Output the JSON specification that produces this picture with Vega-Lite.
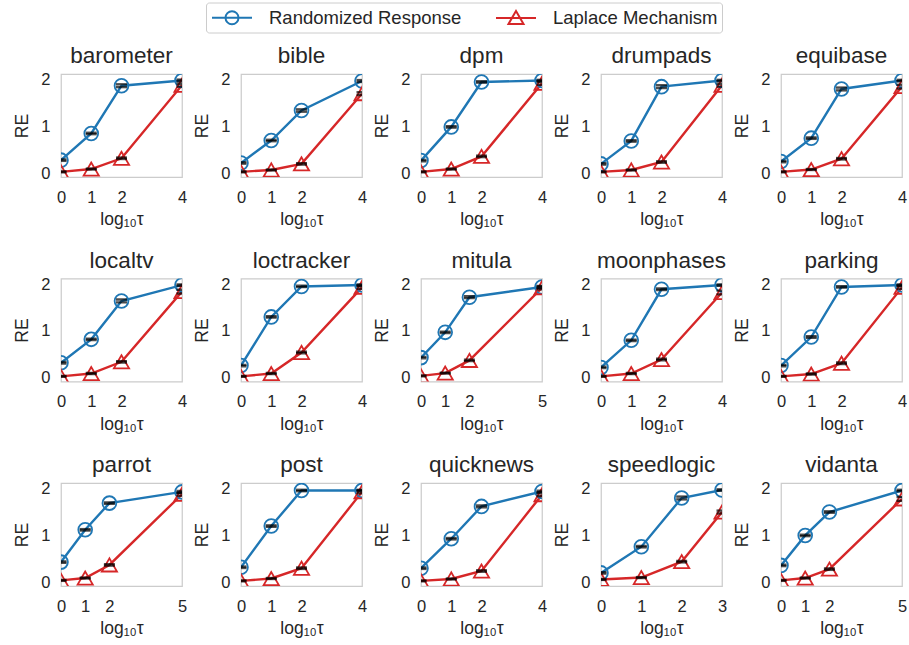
{
"$schema": "https://vega.github.io/schema/vega-lite/v6.json",
"autosize": {"type": "pad"},
"padding": {"left": 13, "top": 2, "right": 0, "bottom": 0},
"background": "white",
"config": {
  "font": "Liberation Sans",
  "view": {"stroke": "#cccccc", "strokeWidth": 1.25},
  "axis": {"domain": false, "ticks": false, "tickSize": 0, "grid": false, "labelFlush": false, "labelFontSize": 16.5, "titleFontSize": 17.5, "labelColor": "#262626", "titleColor": "#262626", "titleFontWeight": "normal", "labelFont": "Liberation Sans", "titleFont": "Liberation Sans"},
  "axisX": {"labelPadding": 12, "titlePadding": 5},
  "axisY": {"labelPadding": 11, "titlePadding": 9},
  "title": {"fontSize": 22.5, "fontWeight": "normal", "color": "#262626", "offset": 4, "font": "Liberation Sans"},
  "legend": {"orient": "none", "legendX": 145, "legendY": -71.5, "direction": "horizontal", "symbolSize": 400, "symbolStrokeWidth": 2, "symbolOffset": 11, "labelOffset": 26, "columnPadding": 30, "padding": 4, "strokeColor": "#cccccc", "cornerRadius": 3, "labelFontSize": 18.5, "labelLimit": 400, "labelColor": "#262626", "labelFont": "Liberation Sans"}
},
"data": {"values": [
{"d":"barometer","m":"RR","t":0,"v":0.28,"lo":0.265,"hi":0.295},{"d":"barometer","m":"RR","t":1,"v":0.85,"lo":0.835,"hi":0.865},{"d":"barometer","m":"RR","t":2,"v":1.87,"lo":1.84,"hi":1.9},{"d":"barometer","m":"RR","t":4,"v":1.98,"lo":1.96,"hi":2.0},
{"d":"barometer","m":"LM","t":0,"v":0.03,"lo":0.02,"hi":0.04},{"d":"barometer","m":"LM","t":1,"v":0.09,"lo":0.08,"hi":0.1},{"d":"barometer","m":"LM","t":2,"v":0.32,"lo":0.305,"hi":0.335},{"d":"barometer","m":"LM","t":4,"v":1.88,"lo":1.85,"hi":1.91},
{"d":"bible","m":"RR","t":0,"v":0.22,"lo":0.205,"hi":0.235},{"d":"bible","m":"RR","t":1,"v":0.7,"lo":0.685,"hi":0.715},{"d":"bible","m":"RR","t":2,"v":1.34,"lo":1.315,"hi":1.365},{"d":"bible","m":"RR","t":4,"v":1.97,"lo":1.95,"hi":1.99},
{"d":"bible","m":"LM","t":0,"v":0.03,"lo":0.02,"hi":0.04},{"d":"bible","m":"LM","t":1,"v":0.07,"lo":0.06,"hi":0.08},{"d":"bible","m":"LM","t":2,"v":0.2,"lo":0.185,"hi":0.215},{"d":"bible","m":"LM","t":4,"v":1.7,"lo":1.67,"hi":1.73},
{"d":"dpm","m":"RR","t":0,"v":0.27,"lo":0.255,"hi":0.285},{"d":"dpm","m":"RR","t":1,"v":0.99,"lo":0.975,"hi":1.005},{"d":"dpm","m":"RR","t":2,"v":1.95,"lo":1.935,"hi":1.965},{"d":"dpm","m":"RR","t":4,"v":1.98,"lo":1.965,"hi":1.995},
{"d":"dpm","m":"LM","t":0,"v":0.03,"lo":0.02,"hi":0.04},{"d":"dpm","m":"LM","t":1,"v":0.09,"lo":0.08,"hi":0.1},{"d":"dpm","m":"LM","t":2,"v":0.36,"lo":0.345,"hi":0.375},{"d":"dpm","m":"LM","t":4,"v":1.92,"lo":1.89,"hi":1.95},
{"d":"drumpads","m":"RR","t":0,"v":0.2,"lo":0.185,"hi":0.215},{"d":"drumpads","m":"RR","t":1,"v":0.69,"lo":0.675,"hi":0.705},{"d":"drumpads","m":"RR","t":2,"v":1.85,"lo":1.82,"hi":1.88},{"d":"drumpads","m":"RR","t":4,"v":1.98,"lo":1.965,"hi":1.995},
{"d":"drumpads","m":"LM","t":0,"v":0.03,"lo":0.02,"hi":0.04},{"d":"drumpads","m":"LM","t":1,"v":0.07,"lo":0.06,"hi":0.08},{"d":"drumpads","m":"LM","t":2,"v":0.24,"lo":0.225,"hi":0.255},{"d":"drumpads","m":"LM","t":4,"v":1.88,"lo":1.85,"hi":1.91},
{"d":"equibase","m":"RR","t":0,"v":0.25,"lo":0.235,"hi":0.265},{"d":"equibase","m":"RR","t":1,"v":0.75,"lo":0.735,"hi":0.765},{"d":"equibase","m":"RR","t":2,"v":1.8,"lo":1.77,"hi":1.83},{"d":"equibase","m":"RR","t":4,"v":1.98,"lo":1.965,"hi":1.995},
{"d":"equibase","m":"LM","t":0,"v":0.03,"lo":0.02,"hi":0.04},{"d":"equibase","m":"LM","t":1,"v":0.08,"lo":0.07,"hi":0.09},{"d":"equibase","m":"LM","t":2,"v":0.31,"lo":0.295,"hi":0.325},{"d":"equibase","m":"LM","t":4,"v":1.85,"lo":1.81,"hi":1.89},
{"d":"localtv","m":"RR","t":0,"v":0.32,"lo":0.305,"hi":0.335},{"d":"localtv","m":"RR","t":1,"v":0.82,"lo":0.805,"hi":0.835},{"d":"localtv","m":"RR","t":2,"v":1.64,"lo":1.61,"hi":1.67},{"d":"localtv","m":"RR","t":4,"v":1.98,"lo":1.965,"hi":1.995},
{"d":"localtv","m":"LM","t":0,"v":0.03,"lo":0.02,"hi":0.04},{"d":"localtv","m":"LM","t":1,"v":0.09,"lo":0.08,"hi":0.1},{"d":"localtv","m":"LM","t":2,"v":0.34,"lo":0.325,"hi":0.355},{"d":"localtv","m":"LM","t":4,"v":1.84,"lo":1.8,"hi":1.88},
{"d":"loctracker","m":"RR","t":0,"v":0.26,"lo":0.245,"hi":0.275},{"d":"loctracker","m":"RR","t":1,"v":1.3,"lo":1.285,"hi":1.315},{"d":"loctracker","m":"RR","t":2,"v":1.95,"lo":1.935,"hi":1.965},{"d":"loctracker","m":"RR","t":4,"v":1.98,"lo":1.965,"hi":1.995},
{"d":"loctracker","m":"LM","t":0,"v":0.03,"lo":0.02,"hi":0.04},{"d":"loctracker","m":"LM","t":1,"v":0.09,"lo":0.08,"hi":0.1},{"d":"loctracker","m":"LM","t":2,"v":0.54,"lo":0.525,"hi":0.555},{"d":"loctracker","m":"LM","t":4,"v":1.93,"lo":1.9,"hi":1.96},
{"d":"mitula","m":"RR","t":0,"v":0.43,"lo":0.415,"hi":0.445},{"d":"mitula","m":"RR","t":1,"v":0.97,"lo":0.955,"hi":0.985},{"d":"mitula","m":"RR","t":2,"v":1.72,"lo":1.7,"hi":1.74},{"d":"mitula","m":"RR","t":5,"v":1.94,"lo":1.92,"hi":1.96},
{"d":"mitula","m":"LM","t":0,"v":0.04,"lo":0.03,"hi":0.05},{"d":"mitula","m":"LM","t":1,"v":0.1,"lo":0.09,"hi":0.11},{"d":"mitula","m":"LM","t":2,"v":0.37,"lo":0.355,"hi":0.385},{"d":"mitula","m":"LM","t":5,"v":1.92,"lo":1.89,"hi":1.95},
{"d":"moonphases","m":"RR","t":0,"v":0.22,"lo":0.205,"hi":0.235},{"d":"moonphases","m":"RR","t":1,"v":0.8,"lo":0.785,"hi":0.815},{"d":"moonphases","m":"RR","t":2,"v":1.89,"lo":1.875,"hi":1.905},{"d":"moonphases","m":"RR","t":4,"v":1.98,"lo":1.965,"hi":1.995},
{"d":"moonphases","m":"LM","t":0,"v":0.03,"lo":0.02,"hi":0.04},{"d":"moonphases","m":"LM","t":1,"v":0.09,"lo":0.08,"hi":0.1},{"d":"moonphases","m":"LM","t":2,"v":0.39,"lo":0.375,"hi":0.405},{"d":"moonphases","m":"LM","t":4,"v":1.82,"lo":1.78,"hi":1.86},
{"d":"parking","m":"RR","t":0,"v":0.26,"lo":0.245,"hi":0.275},{"d":"parking","m":"RR","t":1,"v":0.87,"lo":0.855,"hi":0.885},{"d":"parking","m":"RR","t":2,"v":1.94,"lo":1.925,"hi":1.955},{"d":"parking","m":"RR","t":4,"v":1.98,"lo":1.965,"hi":1.995},
{"d":"parking","m":"LM","t":0,"v":0.03,"lo":0.02,"hi":0.04},{"d":"parking","m":"LM","t":1,"v":0.08,"lo":0.07,"hi":0.09},{"d":"parking","m":"LM","t":2,"v":0.31,"lo":0.295,"hi":0.325},{"d":"parking","m":"LM","t":4,"v":1.93,"lo":1.9,"hi":1.96},
{"d":"parrot","m":"RR","t":0,"v":0.43,"lo":0.415,"hi":0.445},{"d":"parrot","m":"RR","t":1,"v":1.12,"lo":1.105,"hi":1.135},{"d":"parrot","m":"RR","t":2,"v":1.69,"lo":1.675,"hi":1.705},{"d":"parrot","m":"RR","t":5,"v":1.93,"lo":1.91,"hi":1.95},
{"d":"parrot","m":"LM","t":0,"v":0.04,"lo":0.03,"hi":0.05},{"d":"parrot","m":"LM","t":1,"v":0.09,"lo":0.08,"hi":0.1},{"d":"parrot","m":"LM","t":2,"v":0.37,"lo":0.355,"hi":0.385},{"d":"parrot","m":"LM","t":5,"v":1.88,"lo":1.85,"hi":1.91},
{"d":"post","m":"RR","t":0,"v":0.32,"lo":0.305,"hi":0.335},{"d":"post","m":"RR","t":1,"v":1.2,"lo":1.185,"hi":1.215},{"d":"post","m":"RR","t":2,"v":1.96,"lo":1.945,"hi":1.975},{"d":"post","m":"RR","t":4,"v":1.96,"lo":1.945,"hi":1.975},
{"d":"post","m":"LM","t":0,"v":0.03,"lo":0.02,"hi":0.04},{"d":"post","m":"LM","t":1,"v":0.08,"lo":0.07,"hi":0.09},{"d":"post","m":"LM","t":2,"v":0.3,"lo":0.285,"hi":0.315},{"d":"post","m":"LM","t":4,"v":1.93,"lo":1.9,"hi":1.96},
{"d":"quicknews","m":"RR","t":0,"v":0.3,"lo":0.285,"hi":0.315},{"d":"quicknews","m":"RR","t":1,"v":0.93,"lo":0.915,"hi":0.945},{"d":"quicknews","m":"RR","t":2,"v":1.62,"lo":1.6,"hi":1.64},{"d":"quicknews","m":"RR","t":4,"v":1.94,"lo":1.925,"hi":1.955},
{"d":"quicknews","m":"LM","t":0,"v":0.03,"lo":0.02,"hi":0.04},{"d":"quicknews","m":"LM","t":1,"v":0.07,"lo":0.06,"hi":0.08},{"d":"quicknews","m":"LM","t":2,"v":0.24,"lo":0.225,"hi":0.255},{"d":"quicknews","m":"LM","t":4,"v":1.87,"lo":1.84,"hi":1.9},
{"d":"speedlogic","m":"RR","t":0,"v":0.2,"lo":0.185,"hi":0.215},{"d":"speedlogic","m":"RR","t":1,"v":0.76,"lo":0.745,"hi":0.775},{"d":"speedlogic","m":"RR","t":2,"v":1.8,"lo":1.77,"hi":1.83},{"d":"speedlogic","m":"RR","t":3,"v":1.97,"lo":1.955,"hi":1.985},
{"d":"speedlogic","m":"LM","t":0,"v":0.06,"lo":0.05,"hi":0.07},{"d":"speedlogic","m":"LM","t":1,"v":0.1,"lo":0.09,"hi":0.11},{"d":"speedlogic","m":"LM","t":2,"v":0.44,"lo":0.425,"hi":0.455},{"d":"speedlogic","m":"LM","t":3,"v":1.5,"lo":1.47,"hi":1.53},
{"d":"vidanta","m":"RR","t":0,"v":0.36,"lo":0.345,"hi":0.375},{"d":"vidanta","m":"RR","t":1,"v":1.0,"lo":0.985,"hi":1.015},{"d":"vidanta","m":"RR","t":2,"v":1.5,"lo":1.485,"hi":1.515},{"d":"vidanta","m":"RR","t":5,"v":1.96,"lo":1.945,"hi":1.975},
{"d":"vidanta","m":"LM","t":0,"v":0.04,"lo":0.03,"hi":0.05},{"d":"vidanta","m":"LM","t":1,"v":0.09,"lo":0.08,"hi":0.1},{"d":"vidanta","m":"LM","t":2,"v":0.28,"lo":0.265,"hi":0.295},{"d":"vidanta","m":"LM","t":5,"v":1.78,"lo":1.74,"hi":1.82}
]},
"resolve": {"scale": {"x": "independent", "y": "independent"}},
"columns": 5,
"spacing": {"row": 101.5, "column": 59},
"bounds": "flush",
"concat": [
{"title":"barometer","width":121,"height":103,"transform":[{"filter":"datum.d==='barometer'"}],"encoding":{"x":{"field":"t","type":"quantitative","title":"log₁₀τ","scale":{"domain":[0,4],"nice":false,"zero":false},"axis":{"values":[0,1,2,4]}},"color":{"field":"m","type":"nominal","scale":{"domain":["RR","LM"],"range":["#1f77b4","#d62728"]},"legend":{"title":null,"labelExpr":"datum.value==='RR'?'Randomized Response':'Laplace Mechanism'","encode":{"symbols":{"update":{"shape":{"signal":"datum.value==='RR'?'M-2,0H2M0.65,0A0.65,0.65 0 1,1 -0.65,0A0.65,0.65 0 1,1 0.65,0':'M-2,0H2M0,-0.7L0.75,0.58L-0.75,0.58Z'"},"fill":{"value":"transparent"},"strokeWidth":{"value":2}}}}}}},"layer":[
{"mark":{"type":"line","strokeWidth":2.4,"clip":true},"encoding":{"y":{"field":"v","type":"quantitative","title":"RE","scale":{"domain":[-0.08,2.12],"nice":false,"zero":false},"axis":{"values":[0,1,2]}}}},
{"transform":[{"filter":"datum.m==='RR'"}],"mark":{"type":"point","shape":"circle","filled":false,"size":190,"strokeWidth":1.8,"opacity":1,"clip":true},"encoding":{"y":{"field":"v","type":"quantitative","title":"RE"}}},
{"transform":[{"filter":"datum.m==='LM'"}],"mark":{"type":"point","shape":"triangle-up","filled":false,"size":230,"strokeWidth":1.8,"opacity":1,"clip":true},"encoding":{"y":{"field":"v","type":"quantitative","title":"RE"}}},
{"mark":{"type":"tick","orient":"horizontal","thickness":2.4,"size":11,"clip":true},"encoding":{"y":{"field":"lo","type":"quantitative","title":"RE"},"color":{"value":"black"}}},
{"mark":{"type":"tick","orient":"horizontal","thickness":2.4,"size":11,"clip":true},"encoding":{"y":{"field":"hi","type":"quantitative","title":"RE"},"color":{"value":"black"}}}]},
{"title":"bible","width":121,"height":103,"transform":[{"filter":"datum.d==='bible'"}],"encoding":{"x":{"field":"t","type":"quantitative","title":"log₁₀τ","scale":{"domain":[0,4],"nice":false,"zero":false},"axis":{"values":[0,1,2,4]}},"color":{"field":"m","type":"nominal","scale":{"domain":["RR","LM"],"range":["#1f77b4","#d62728"]}}},"layer":[
{"mark":{"type":"line","strokeWidth":2.4,"clip":true},"encoding":{"y":{"field":"v","type":"quantitative","title":"RE","scale":{"domain":[-0.08,2.12],"nice":false,"zero":false},"axis":{"values":[0,1,2]}}}},
{"transform":[{"filter":"datum.m==='RR'"}],"mark":{"type":"point","shape":"circle","filled":false,"size":190,"strokeWidth":1.8,"opacity":1,"clip":true},"encoding":{"y":{"field":"v","type":"quantitative","title":"RE"}}},
{"transform":[{"filter":"datum.m==='LM'"}],"mark":{"type":"point","shape":"triangle-up","filled":false,"size":230,"strokeWidth":1.8,"opacity":1,"clip":true},"encoding":{"y":{"field":"v","type":"quantitative","title":"RE"}}},
{"mark":{"type":"tick","orient":"horizontal","thickness":2.4,"size":11,"clip":true},"encoding":{"y":{"field":"lo","type":"quantitative","title":"RE"},"color":{"value":"black"}}},
{"mark":{"type":"tick","orient":"horizontal","thickness":2.4,"size":11,"clip":true},"encoding":{"y":{"field":"hi","type":"quantitative","title":"RE"},"color":{"value":"black"}}}]},
{"title":"dpm","width":121,"height":103,"transform":[{"filter":"datum.d==='dpm'"}],"encoding":{"x":{"field":"t","type":"quantitative","title":"log₁₀τ","scale":{"domain":[0,4],"nice":false,"zero":false},"axis":{"values":[0,1,2,4]}},"color":{"field":"m","type":"nominal","scale":{"domain":["RR","LM"],"range":["#1f77b4","#d62728"]}}},"layer":[
{"mark":{"type":"line","strokeWidth":2.4,"clip":true},"encoding":{"y":{"field":"v","type":"quantitative","title":"RE","scale":{"domain":[-0.08,2.12],"nice":false,"zero":false},"axis":{"values":[0,1,2]}}}},
{"transform":[{"filter":"datum.m==='RR'"}],"mark":{"type":"point","shape":"circle","filled":false,"size":190,"strokeWidth":1.8,"opacity":1,"clip":true},"encoding":{"y":{"field":"v","type":"quantitative","title":"RE"}}},
{"transform":[{"filter":"datum.m==='LM'"}],"mark":{"type":"point","shape":"triangle-up","filled":false,"size":230,"strokeWidth":1.8,"opacity":1,"clip":true},"encoding":{"y":{"field":"v","type":"quantitative","title":"RE"}}},
{"mark":{"type":"tick","orient":"horizontal","thickness":2.4,"size":11,"clip":true},"encoding":{"y":{"field":"lo","type":"quantitative","title":"RE"},"color":{"value":"black"}}},
{"mark":{"type":"tick","orient":"horizontal","thickness":2.4,"size":11,"clip":true},"encoding":{"y":{"field":"hi","type":"quantitative","title":"RE"},"color":{"value":"black"}}}]},
{"title":"drumpads","width":121,"height":103,"transform":[{"filter":"datum.d==='drumpads'"}],"encoding":{"x":{"field":"t","type":"quantitative","title":"log₁₀τ","scale":{"domain":[0,4],"nice":false,"zero":false},"axis":{"values":[0,1,2,4]}},"color":{"field":"m","type":"nominal","scale":{"domain":["RR","LM"],"range":["#1f77b4","#d62728"]}}},"layer":[
{"mark":{"type":"line","strokeWidth":2.4,"clip":true},"encoding":{"y":{"field":"v","type":"quantitative","title":"RE","scale":{"domain":[-0.08,2.12],"nice":false,"zero":false},"axis":{"values":[0,1,2]}}}},
{"transform":[{"filter":"datum.m==='RR'"}],"mark":{"type":"point","shape":"circle","filled":false,"size":190,"strokeWidth":1.8,"opacity":1,"clip":true},"encoding":{"y":{"field":"v","type":"quantitative","title":"RE"}}},
{"transform":[{"filter":"datum.m==='LM'"}],"mark":{"type":"point","shape":"triangle-up","filled":false,"size":230,"strokeWidth":1.8,"opacity":1,"clip":true},"encoding":{"y":{"field":"v","type":"quantitative","title":"RE"}}},
{"mark":{"type":"tick","orient":"horizontal","thickness":2.4,"size":11,"clip":true},"encoding":{"y":{"field":"lo","type":"quantitative","title":"RE"},"color":{"value":"black"}}},
{"mark":{"type":"tick","orient":"horizontal","thickness":2.4,"size":11,"clip":true},"encoding":{"y":{"field":"hi","type":"quantitative","title":"RE"},"color":{"value":"black"}}}]},
{"title":"equibase","width":121,"height":103,"transform":[{"filter":"datum.d==='equibase'"}],"encoding":{"x":{"field":"t","type":"quantitative","title":"log₁₀τ","scale":{"domain":[0,4],"nice":false,"zero":false},"axis":{"values":[0,1,2,4]}},"color":{"field":"m","type":"nominal","scale":{"domain":["RR","LM"],"range":["#1f77b4","#d62728"]}}},"layer":[
{"mark":{"type":"line","strokeWidth":2.4,"clip":true},"encoding":{"y":{"field":"v","type":"quantitative","title":"RE","scale":{"domain":[-0.08,2.12],"nice":false,"zero":false},"axis":{"values":[0,1,2]}}}},
{"transform":[{"filter":"datum.m==='RR'"}],"mark":{"type":"point","shape":"circle","filled":false,"size":190,"strokeWidth":1.8,"opacity":1,"clip":true},"encoding":{"y":{"field":"v","type":"quantitative","title":"RE"}}},
{"transform":[{"filter":"datum.m==='LM'"}],"mark":{"type":"point","shape":"triangle-up","filled":false,"size":230,"strokeWidth":1.8,"opacity":1,"clip":true},"encoding":{"y":{"field":"v","type":"quantitative","title":"RE"}}},
{"mark":{"type":"tick","orient":"horizontal","thickness":2.4,"size":11,"clip":true},"encoding":{"y":{"field":"lo","type":"quantitative","title":"RE"},"color":{"value":"black"}}},
{"mark":{"type":"tick","orient":"horizontal","thickness":2.4,"size":11,"clip":true},"encoding":{"y":{"field":"hi","type":"quantitative","title":"RE"},"color":{"value":"black"}}}]},
{"title":"localtv","width":121,"height":103,"transform":[{"filter":"datum.d==='localtv'"}],"encoding":{"x":{"field":"t","type":"quantitative","title":"log₁₀τ","scale":{"domain":[0,4],"nice":false,"zero":false},"axis":{"values":[0,1,2,4]}},"color":{"field":"m","type":"nominal","scale":{"domain":["RR","LM"],"range":["#1f77b4","#d62728"]}}},"layer":[
{"mark":{"type":"line","strokeWidth":2.4,"clip":true},"encoding":{"y":{"field":"v","type":"quantitative","title":"RE","scale":{"domain":[-0.08,2.12],"nice":false,"zero":false},"axis":{"values":[0,1,2]}}}},
{"transform":[{"filter":"datum.m==='RR'"}],"mark":{"type":"point","shape":"circle","filled":false,"size":190,"strokeWidth":1.8,"opacity":1,"clip":true},"encoding":{"y":{"field":"v","type":"quantitative","title":"RE"}}},
{"transform":[{"filter":"datum.m==='LM'"}],"mark":{"type":"point","shape":"triangle-up","filled":false,"size":230,"strokeWidth":1.8,"opacity":1,"clip":true},"encoding":{"y":{"field":"v","type":"quantitative","title":"RE"}}},
{"mark":{"type":"tick","orient":"horizontal","thickness":2.4,"size":11,"clip":true},"encoding":{"y":{"field":"lo","type":"quantitative","title":"RE"},"color":{"value":"black"}}},
{"mark":{"type":"tick","orient":"horizontal","thickness":2.4,"size":11,"clip":true},"encoding":{"y":{"field":"hi","type":"quantitative","title":"RE"},"color":{"value":"black"}}}]},
{"title":"loctracker","width":121,"height":103,"transform":[{"filter":"datum.d==='loctracker'"}],"encoding":{"x":{"field":"t","type":"quantitative","title":"log₁₀τ","scale":{"domain":[0,4],"nice":false,"zero":false},"axis":{"values":[0,1,2,4]}},"color":{"field":"m","type":"nominal","scale":{"domain":["RR","LM"],"range":["#1f77b4","#d62728"]}}},"layer":[
{"mark":{"type":"line","strokeWidth":2.4,"clip":true},"encoding":{"y":{"field":"v","type":"quantitative","title":"RE","scale":{"domain":[-0.08,2.12],"nice":false,"zero":false},"axis":{"values":[0,1,2]}}}},
{"transform":[{"filter":"datum.m==='RR'"}],"mark":{"type":"point","shape":"circle","filled":false,"size":190,"strokeWidth":1.8,"opacity":1,"clip":true},"encoding":{"y":{"field":"v","type":"quantitative","title":"RE"}}},
{"transform":[{"filter":"datum.m==='LM'"}],"mark":{"type":"point","shape":"triangle-up","filled":false,"size":230,"strokeWidth":1.8,"opacity":1,"clip":true},"encoding":{"y":{"field":"v","type":"quantitative","title":"RE"}}},
{"mark":{"type":"tick","orient":"horizontal","thickness":2.4,"size":11,"clip":true},"encoding":{"y":{"field":"lo","type":"quantitative","title":"RE"},"color":{"value":"black"}}},
{"mark":{"type":"tick","orient":"horizontal","thickness":2.4,"size":11,"clip":true},"encoding":{"y":{"field":"hi","type":"quantitative","title":"RE"},"color":{"value":"black"}}}]},
{"title":"mitula","width":121,"height":103,"transform":[{"filter":"datum.d==='mitula'"}],"encoding":{"x":{"field":"t","type":"quantitative","title":"log₁₀τ","scale":{"domain":[0,5],"nice":false,"zero":false},"axis":{"values":[0,1,2,5]}},"color":{"field":"m","type":"nominal","scale":{"domain":["RR","LM"],"range":["#1f77b4","#d62728"]}}},"layer":[
{"mark":{"type":"line","strokeWidth":2.4,"clip":true},"encoding":{"y":{"field":"v","type":"quantitative","title":"RE","scale":{"domain":[-0.08,2.12],"nice":false,"zero":false},"axis":{"values":[0,1,2]}}}},
{"transform":[{"filter":"datum.m==='RR'"}],"mark":{"type":"point","shape":"circle","filled":false,"size":190,"strokeWidth":1.8,"opacity":1,"clip":true},"encoding":{"y":{"field":"v","type":"quantitative","title":"RE"}}},
{"transform":[{"filter":"datum.m==='LM'"}],"mark":{"type":"point","shape":"triangle-up","filled":false,"size":230,"strokeWidth":1.8,"opacity":1,"clip":true},"encoding":{"y":{"field":"v","type":"quantitative","title":"RE"}}},
{"mark":{"type":"tick","orient":"horizontal","thickness":2.4,"size":11,"clip":true},"encoding":{"y":{"field":"lo","type":"quantitative","title":"RE"},"color":{"value":"black"}}},
{"mark":{"type":"tick","orient":"horizontal","thickness":2.4,"size":11,"clip":true},"encoding":{"y":{"field":"hi","type":"quantitative","title":"RE"},"color":{"value":"black"}}}]},
{"title":"moonphases","width":121,"height":103,"transform":[{"filter":"datum.d==='moonphases'"}],"encoding":{"x":{"field":"t","type":"quantitative","title":"log₁₀τ","scale":{"domain":[0,4],"nice":false,"zero":false},"axis":{"values":[0,1,2,4]}},"color":{"field":"m","type":"nominal","scale":{"domain":["RR","LM"],"range":["#1f77b4","#d62728"]}}},"layer":[
{"mark":{"type":"line","strokeWidth":2.4,"clip":true},"encoding":{"y":{"field":"v","type":"quantitative","title":"RE","scale":{"domain":[-0.08,2.12],"nice":false,"zero":false},"axis":{"values":[0,1,2]}}}},
{"transform":[{"filter":"datum.m==='RR'"}],"mark":{"type":"point","shape":"circle","filled":false,"size":190,"strokeWidth":1.8,"opacity":1,"clip":true},"encoding":{"y":{"field":"v","type":"quantitative","title":"RE"}}},
{"transform":[{"filter":"datum.m==='LM'"}],"mark":{"type":"point","shape":"triangle-up","filled":false,"size":230,"strokeWidth":1.8,"opacity":1,"clip":true},"encoding":{"y":{"field":"v","type":"quantitative","title":"RE"}}},
{"mark":{"type":"tick","orient":"horizontal","thickness":2.4,"size":11,"clip":true},"encoding":{"y":{"field":"lo","type":"quantitative","title":"RE"},"color":{"value":"black"}}},
{"mark":{"type":"tick","orient":"horizontal","thickness":2.4,"size":11,"clip":true},"encoding":{"y":{"field":"hi","type":"quantitative","title":"RE"},"color":{"value":"black"}}}]},
{"title":"parking","width":121,"height":103,"transform":[{"filter":"datum.d==='parking'"}],"encoding":{"x":{"field":"t","type":"quantitative","title":"log₁₀τ","scale":{"domain":[0,4],"nice":false,"zero":false},"axis":{"values":[0,1,2,4]}},"color":{"field":"m","type":"nominal","scale":{"domain":["RR","LM"],"range":["#1f77b4","#d62728"]}}},"layer":[
{"mark":{"type":"line","strokeWidth":2.4,"clip":true},"encoding":{"y":{"field":"v","type":"quantitative","title":"RE","scale":{"domain":[-0.08,2.12],"nice":false,"zero":false},"axis":{"values":[0,1,2]}}}},
{"transform":[{"filter":"datum.m==='RR'"}],"mark":{"type":"point","shape":"circle","filled":false,"size":190,"strokeWidth":1.8,"opacity":1,"clip":true},"encoding":{"y":{"field":"v","type":"quantitative","title":"RE"}}},
{"transform":[{"filter":"datum.m==='LM'"}],"mark":{"type":"point","shape":"triangle-up","filled":false,"size":230,"strokeWidth":1.8,"opacity":1,"clip":true},"encoding":{"y":{"field":"v","type":"quantitative","title":"RE"}}},
{"mark":{"type":"tick","orient":"horizontal","thickness":2.4,"size":11,"clip":true},"encoding":{"y":{"field":"lo","type":"quantitative","title":"RE"},"color":{"value":"black"}}},
{"mark":{"type":"tick","orient":"horizontal","thickness":2.4,"size":11,"clip":true},"encoding":{"y":{"field":"hi","type":"quantitative","title":"RE"},"color":{"value":"black"}}}]},
{"title":"parrot","width":121,"height":103,"transform":[{"filter":"datum.d==='parrot'"}],"encoding":{"x":{"field":"t","type":"quantitative","title":"log₁₀τ","scale":{"domain":[0,5],"nice":false,"zero":false},"axis":{"values":[0,1,2,5]}},"color":{"field":"m","type":"nominal","scale":{"domain":["RR","LM"],"range":["#1f77b4","#d62728"]}}},"layer":[
{"mark":{"type":"line","strokeWidth":2.4,"clip":true},"encoding":{"y":{"field":"v","type":"quantitative","title":"RE","scale":{"domain":[-0.08,2.12],"nice":false,"zero":false},"axis":{"values":[0,1,2]}}}},
{"transform":[{"filter":"datum.m==='RR'"}],"mark":{"type":"point","shape":"circle","filled":false,"size":190,"strokeWidth":1.8,"opacity":1,"clip":true},"encoding":{"y":{"field":"v","type":"quantitative","title":"RE"}}},
{"transform":[{"filter":"datum.m==='LM'"}],"mark":{"type":"point","shape":"triangle-up","filled":false,"size":230,"strokeWidth":1.8,"opacity":1,"clip":true},"encoding":{"y":{"field":"v","type":"quantitative","title":"RE"}}},
{"mark":{"type":"tick","orient":"horizontal","thickness":2.4,"size":11,"clip":true},"encoding":{"y":{"field":"lo","type":"quantitative","title":"RE"},"color":{"value":"black"}}},
{"mark":{"type":"tick","orient":"horizontal","thickness":2.4,"size":11,"clip":true},"encoding":{"y":{"field":"hi","type":"quantitative","title":"RE"},"color":{"value":"black"}}}]},
{"title":"post","width":121,"height":103,"transform":[{"filter":"datum.d==='post'"}],"encoding":{"x":{"field":"t","type":"quantitative","title":"log₁₀τ","scale":{"domain":[0,4],"nice":false,"zero":false},"axis":{"values":[0,1,2,4]}},"color":{"field":"m","type":"nominal","scale":{"domain":["RR","LM"],"range":["#1f77b4","#d62728"]}}},"layer":[
{"mark":{"type":"line","strokeWidth":2.4,"clip":true},"encoding":{"y":{"field":"v","type":"quantitative","title":"RE","scale":{"domain":[-0.08,2.12],"nice":false,"zero":false},"axis":{"values":[0,1,2]}}}},
{"transform":[{"filter":"datum.m==='RR'"}],"mark":{"type":"point","shape":"circle","filled":false,"size":190,"strokeWidth":1.8,"opacity":1,"clip":true},"encoding":{"y":{"field":"v","type":"quantitative","title":"RE"}}},
{"transform":[{"filter":"datum.m==='LM'"}],"mark":{"type":"point","shape":"triangle-up","filled":false,"size":230,"strokeWidth":1.8,"opacity":1,"clip":true},"encoding":{"y":{"field":"v","type":"quantitative","title":"RE"}}},
{"mark":{"type":"tick","orient":"horizontal","thickness":2.4,"size":11,"clip":true},"encoding":{"y":{"field":"lo","type":"quantitative","title":"RE"},"color":{"value":"black"}}},
{"mark":{"type":"tick","orient":"horizontal","thickness":2.4,"size":11,"clip":true},"encoding":{"y":{"field":"hi","type":"quantitative","title":"RE"},"color":{"value":"black"}}}]},
{"title":"quicknews","width":121,"height":103,"transform":[{"filter":"datum.d==='quicknews'"}],"encoding":{"x":{"field":"t","type":"quantitative","title":"log₁₀τ","scale":{"domain":[0,4],"nice":false,"zero":false},"axis":{"values":[0,1,2,4]}},"color":{"field":"m","type":"nominal","scale":{"domain":["RR","LM"],"range":["#1f77b4","#d62728"]}}},"layer":[
{"mark":{"type":"line","strokeWidth":2.4,"clip":true},"encoding":{"y":{"field":"v","type":"quantitative","title":"RE","scale":{"domain":[-0.08,2.12],"nice":false,"zero":false},"axis":{"values":[0,1,2]}}}},
{"transform":[{"filter":"datum.m==='RR'"}],"mark":{"type":"point","shape":"circle","filled":false,"size":190,"strokeWidth":1.8,"opacity":1,"clip":true},"encoding":{"y":{"field":"v","type":"quantitative","title":"RE"}}},
{"transform":[{"filter":"datum.m==='LM'"}],"mark":{"type":"point","shape":"triangle-up","filled":false,"size":230,"strokeWidth":1.8,"opacity":1,"clip":true},"encoding":{"y":{"field":"v","type":"quantitative","title":"RE"}}},
{"mark":{"type":"tick","orient":"horizontal","thickness":2.4,"size":11,"clip":true},"encoding":{"y":{"field":"lo","type":"quantitative","title":"RE"},"color":{"value":"black"}}},
{"mark":{"type":"tick","orient":"horizontal","thickness":2.4,"size":11,"clip":true},"encoding":{"y":{"field":"hi","type":"quantitative","title":"RE"},"color":{"value":"black"}}}]},
{"title":"speedlogic","width":121,"height":103,"transform":[{"filter":"datum.d==='speedlogic'"}],"encoding":{"x":{"field":"t","type":"quantitative","title":"log₁₀τ","scale":{"domain":[0,3],"nice":false,"zero":false},"axis":{"values":[0,1,2,3]}},"color":{"field":"m","type":"nominal","scale":{"domain":["RR","LM"],"range":["#1f77b4","#d62728"]}}},"layer":[
{"mark":{"type":"line","strokeWidth":2.4,"clip":true},"encoding":{"y":{"field":"v","type":"quantitative","title":"RE","scale":{"domain":[-0.08,2.12],"nice":false,"zero":false},"axis":{"values":[0,1,2]}}}},
{"transform":[{"filter":"datum.m==='RR'"}],"mark":{"type":"point","shape":"circle","filled":false,"size":190,"strokeWidth":1.8,"opacity":1,"clip":true},"encoding":{"y":{"field":"v","type":"quantitative","title":"RE"}}},
{"transform":[{"filter":"datum.m==='LM'"}],"mark":{"type":"point","shape":"triangle-up","filled":false,"size":230,"strokeWidth":1.8,"opacity":1,"clip":true},"encoding":{"y":{"field":"v","type":"quantitative","title":"RE"}}},
{"mark":{"type":"tick","orient":"horizontal","thickness":2.4,"size":11,"clip":true},"encoding":{"y":{"field":"lo","type":"quantitative","title":"RE"},"color":{"value":"black"}}},
{"mark":{"type":"tick","orient":"horizontal","thickness":2.4,"size":11,"clip":true},"encoding":{"y":{"field":"hi","type":"quantitative","title":"RE"},"color":{"value":"black"}}}]},
{"title":"vidanta","width":121,"height":103,"transform":[{"filter":"datum.d==='vidanta'"}],"encoding":{"x":{"field":"t","type":"quantitative","title":"log₁₀τ","scale":{"domain":[0,5],"nice":false,"zero":false},"axis":{"values":[0,1,2,5]}},"color":{"field":"m","type":"nominal","scale":{"domain":["RR","LM"],"range":["#1f77b4","#d62728"]}}},"layer":[
{"mark":{"type":"line","strokeWidth":2.4,"clip":true},"encoding":{"y":{"field":"v","type":"quantitative","title":"RE","scale":{"domain":[-0.08,2.12],"nice":false,"zero":false},"axis":{"values":[0,1,2]}}}},
{"transform":[{"filter":"datum.m==='RR'"}],"mark":{"type":"point","shape":"circle","filled":false,"size":190,"strokeWidth":1.8,"opacity":1,"clip":true},"encoding":{"y":{"field":"v","type":"quantitative","title":"RE"}}},
{"transform":[{"filter":"datum.m==='LM'"}],"mark":{"type":"point","shape":"triangle-up","filled":false,"size":230,"strokeWidth":1.8,"opacity":1,"clip":true},"encoding":{"y":{"field":"v","type":"quantitative","title":"RE"}}},
{"mark":{"type":"tick","orient":"horizontal","thickness":2.4,"size":11,"clip":true},"encoding":{"y":{"field":"lo","type":"quantitative","title":"RE"},"color":{"value":"black"}}},
{"mark":{"type":"tick","orient":"horizontal","thickness":2.4,"size":11,"clip":true},"encoding":{"y":{"field":"hi","type":"quantitative","title":"RE"},"color":{"value":"black"}}}]}
]
}
